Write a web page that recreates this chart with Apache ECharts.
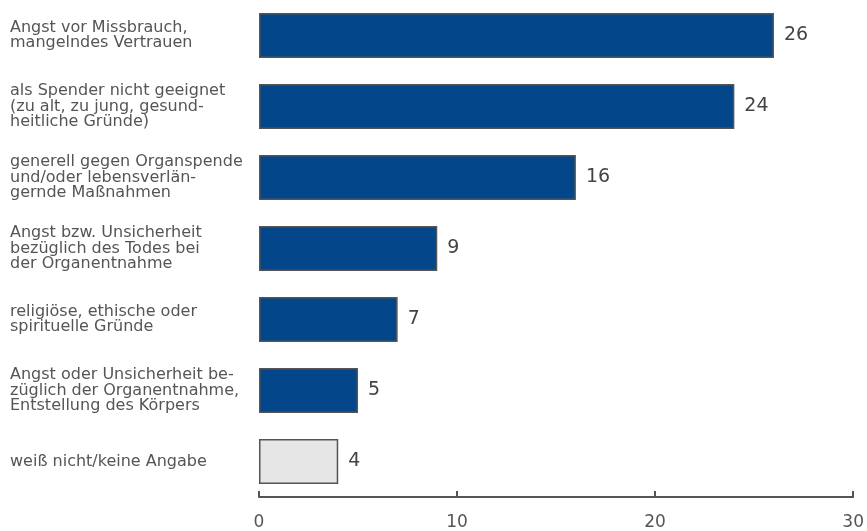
<!DOCTYPE html>
<html><head><meta charset="utf-8">
<script src="https://cdn.jsdelivr.net/npm/echarts@6/dist/echarts.min.js"></script>
<style>html,body{margin:0;padding:0;background:#fff}#c{width:867px;height:531px}</style>
</head><body><div id="c"></div>
<script>
const categories = [
  "Angst vor Missbrauch,\nmangelndes Vertrauen",
  "als Spender nicht geeignet\n(zu alt, zu jung, gesund-\nheitliche Gründe)",
  "generell gegen Organspende\nund/oder lebensverlän-\ngernde Maßnahmen",
  "Angst bzw. Unsicherheit\nbezüglich des Todes bei\nder Organentnahme",
  "religiöse, ethische oder\nspirituelle Gründe",
  "Angst oder Unsicherheit be-\nzüglich der Organentnahme,\nEntstellung des Körpers",
  "weiß nicht/keine Angabe"
];
const values = [26, 24, 16, 9, 7, 5, 4];
const highlight = [false, false, false, false, false, false, true];
const xTicks = [0, 10, 20, 30];

const chart = echarts.init(document.getElementById('c'), null, {renderer:'canvas'});
chart.setOption({
  animation:false,
  grid:{left:259, right:10, top:-2, bottom:30},
  xAxis:{type:'value', min:xTicks[0], max:xTicks[xTicks.length-1], interval:10,
    axisLine:{show:true, lineStyle:{color:'#555', width:2}},
    axisTick:{show:true, inside:true, length:6, lineStyle:{color:'#555', width:2}},
    splitLine:{show:false},
    axisLabel:{color:'#555', fontSize:17, fontFamily:'DejaVu Sans', margin:17}
  },
  yAxis:{type:'category', inverse:true, data:categories,
    axisLine:{show:false}, axisTick:{show:false},
    axisLabel:{align:'left', margin:249, color:'#555', fontSize:16, fontFamily:'DejaVu Sans', lineHeight:15.5,
      padding:[0,0,6,0]}
  },
  series:[{type:'bar', barWidth:45,
    data: values.map((v,i)=>({value:v, itemStyle:{color: highlight[i] ? '#e6e6e6' : '#03468a'}})),
    itemStyle:{borderColor:'#555', borderWidth:1.5},
    label:{show:true, position:'right', distance:10, color:'#444', fontSize:19, fontFamily:'DejaVu Sans'}
  }]
});
</script></body></html>
